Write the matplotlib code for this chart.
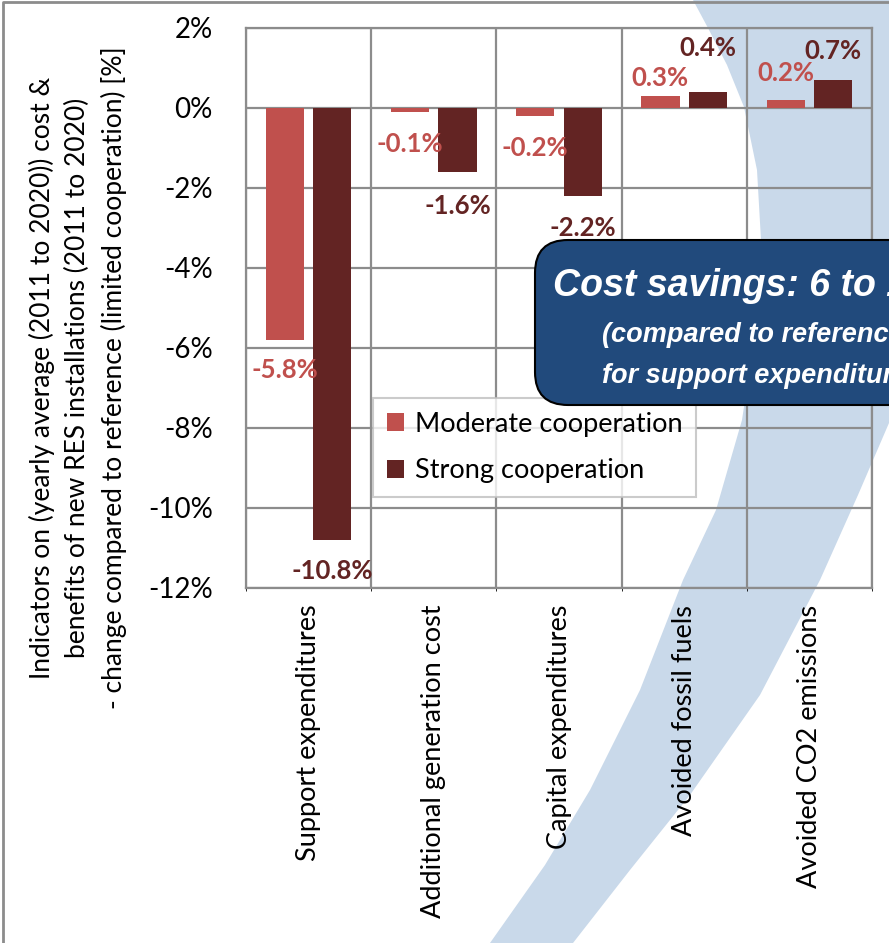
import matplotlib
matplotlib.use("Agg")
import matplotlib.pyplot as plt
import numpy as np
from matplotlib.patches import FancyBboxPatch

plt.rcParams["font.family"] = ["Lato", "DejaVu Sans"]

categories = ["Support expenditures", "Additional generation cost", "Capital expenditures",
              "Avoided fossil fuels", "Avoided CO2 emissions"]
moderate = [-5.8, -0.1, -0.2, 0.3, 0.2]
strong = [-10.8, -1.6, -2.2, 0.4, 0.7]
series_names = ["Moderate cooperation", "Strong cooperation"]
yticks = [2, 0, -2, -4, -6, -8, -10, -12]

C_MOD, C_STR = "#C0504D", "#632423"
GRID = "#8C8C8C"
SWOOSH = "#C9D9EA"
BOX = "#214A7C"

# vertical nudges for value labels (pixels, + = up)
dy_mod = [-30, -32, -32, 18, 27]
dy_str = [-31, -34, -32, 44, 29]

W, H, DPI = 889, 943, 100
fig = plt.figure(figsize=(W / DPI, H / DPI), dpi=DPI)


def px(x, y):
    """figure-fraction coords from pixel coords measured from top-left"""
    return x / W, 1 - y / H


# backdrop layer in pixel units (y down): swoosh + chart-area frame
bg = fig.add_axes([0, 0, 1, 1], zorder=-5)
bg.set_xlim(0, W)
bg.set_ylim(H, 0)
bg.axis("off")
outline = [(693, 0), (889, 0), (889, 423), (858, 495), (820, 580), (760, 695), (690, 795),
           (630, 870), (573, 943), (490, 943), (545, 865), (590, 790), (640, 690), (683, 580),
           (716, 510), (742, 420), (757, 320), (761, 240), (757, 170), (744, 107), (727, 65),
           (708, 28)]
sx_, sy_ = zip(*outline)
bg.fill(sx_, sy_, color=SWOOSH, lw=0)
bg.plot([3, 3, W + 10], [H + 10, 2, 2], color=GRID, lw=2)

ax = fig.add_axes([246 / W, 1 - 588 / H, (872 - 246) / W, (588 - 28) / H])
ax.patch.set_visible(False)

x = np.arange(len(categories))
bw, off = 0.305, 0.19
ax.bar(x - off, moderate, bw, color=C_MOD, label=series_names[0], zorder=3)
ax.bar(x + off, strong, bw, color=C_STR, label=series_names[1], zorder=3)

for vals, dys, col, sx in [(moderate, dy_mod, C_MOD, -off), (strong, dy_str, C_STR, off)]:
    for i, (v, d) in enumerate(zip(vals, dys)):
        ax.annotate(f"{v:.1f}%", (i + sx, v), xytext=(0, d * 0.72), textcoords="offset points",
                    ha="center", va="center", color=col, fontsize=18.5, fontweight="bold",
                    zorder=5)

ax.set_xlim(-0.5, len(categories) - 0.5)
ax.set_ylim(-12, 2)
ax.set_yticks(yticks)
ax.set_yticklabels([f"{t}%" for t in yticks])
ax.set_xticks(x)
ax.set_xticklabels(categories, rotation=90, va="top")
ax.set_xticks(np.arange(len(categories) + 1) - 0.5, minor=True)
ax.tick_params(axis="both", length=0, labelsize=20)
ax.tick_params(axis="x", labelsize=19.5, pad=12)
ax.tick_params(axis="y", pad=24)
ax.grid(axis="y", color=GRID, linewidth=1.6, zorder=1)
ax.grid(axis="x", which="minor", color=GRID, linewidth=1.6, zorder=1)
for s in ax.spines.values():
    s.set_color(GRID)
    s.set_linewidth(1.6)

fig.text(*px(78, 378), "Indicators on (yearly average (2011 to 2020)) cost &\n"
         "benefits of new RES installations (2011 to 2020)\n"
         "- change compared to reference (limited cooperation) [%]",
         rotation=90, ha="center", va="center", multialignment="center",
         fontsize=19, linespacing=1.5)

leg = ax.legend(loc="upper left", bbox_to_anchor=px(373, 398), bbox_transform=fig.transFigure,
                borderaxespad=0, fontsize=19.5, frameon=True, fancybox=False,
                handlelength=0.65, handleheight=0.65, handletextpad=0.4, labelspacing=0.8,
                borderpad=0.5)
leg.get_frame().set_edgecolor("#BFBFBF")
leg.get_frame().set_linewidth(1.5)
leg.set_zorder(6)

# callout box
box = FancyBboxPatch((535 / DPI, (H - 405) / DPI), 6.0, 165 / DPI,
                     boxstyle="round,pad=0,rounding_size=0.33", transform=fig.dpi_scale_trans,
                     facecolor=BOX, edgecolor="black", linewidth=1.5, zorder=10)
fig.add_artist(box)
callout_font = dict(color="white", fontweight="bold", fontstyle="italic",
                    family=["Liberation Sans", "DejaVu Sans"], zorder=11, ha="left", va="center")
fig.text(*px(553, 286), "Cost savings: 6 to 11%", fontsize=27, **callout_font)
fig.text(*px(602, 335), "(compared to reference)", fontsize=19.5, **callout_font)
fig.text(*px(602, 376), "for support expenditures", fontsize=19.5, **callout_font)

fig.savefig("out.png", dpi=DPI)
